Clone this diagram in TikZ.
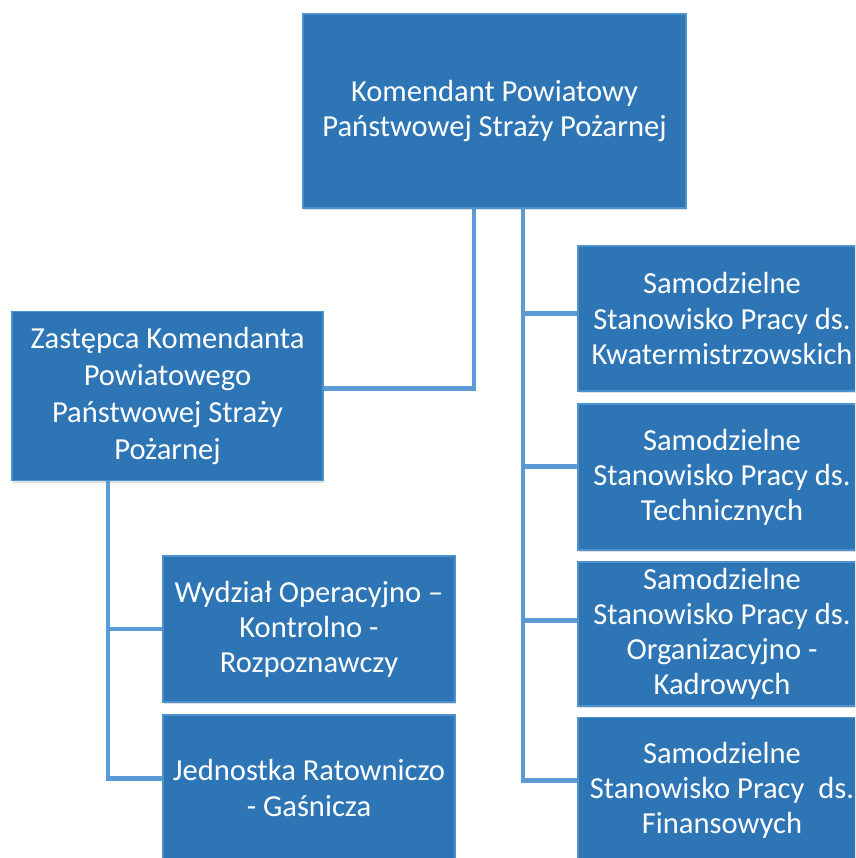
\documentclass[tikz,border=0pt]{standalone}
\usepackage{fontspec}
\setmainfont{Carlito}
\usetikzlibrary{shadows}
\definecolor{boxblue}{RGB}{46,117,182}
\definecolor{boxedge}{RGB}{78,145,205}
\definecolor{lineblue}{RGB}{91,155,213}
\tikzset{
  unit/.style={draw=boxedge, line width=0.8pt, fill=boxblue, text=white, align=center,
    font=\fontsize{17.4}{20}\selectfont, inner sep=1pt,
    drop shadow={opacity=0.25, shadow xshift=0.6pt, shadow yshift=-1.2pt}},
  link/.style={draw=lineblue, line width=2.8pt}
}
\begin{document}
\begin{tikzpicture}[x=0.02cm, y=-0.02cm]
			%%%%% START %%%%%
			
			\useasboundingbox (0,0) rectangle (855,858);
			\clip (0,0) rectangle (855,858);
			\fill[white] (0,0) rectangle (855,858);
			
			\node[unit, minimum width=7.66cm, minimum height=3.88cm] (top) at (494.5,111)
				{Komendant Powiatowy\\Państwowej Straży Pożarnej};
			
			\node[unit, font=\fontsize{17.4}{21.2}\selectfont, minimum width=6.22cm, minimum height=3.38cm] (zast) at (167.5,396)
				{Zastępca Komendanta\\Powiatowego\\Państwowej Straży\\Pożarnej};
			
			\node[unit, minimum width=5.84cm, minimum height=2.92cm] (wydz) at (309,629)
				{Wydział Operacyjno –\\Kontrolno -\\Rozpoznawczy};
			\node[unit, minimum width=5.84cm, minimum height=2.92cm] (jedn) at (309,788)
				{Jednostka Ratowniczo\\- Gaśnicza};
			
			\node[unit, minimum width=5.76cm, minimum height=2.90cm] (ssp1) at (722,318.5)
				{Samodzielne\\Stanowisko Pracy ds.\\Kwatermistrzowskich};
			\node[unit, minimum width=5.76cm, minimum height=2.92cm] (ssp2) at (722,477)
				{Samodzielne\\Stanowisko Pracy ds.\\Technicznych};
			\node[unit, minimum width=5.76cm, minimum height=2.88cm] (ssp3) at (722,634)
				{Samodzielne\\Stanowisko Pracy ds.\\Organizacyjno -\\Kadrowych};
			\node[unit, minimum width=5.76cm, minimum height=2.90cm] (ssp4) at (722,790)
				{Samodzielne\\Stanowisko Pracy\ \ ds.\\Finansowych};
			
			% feet of the connectors
			\coordinate (topfootL) at ([xshift=-0.41cm]top.south);
			\coordinate (topfootR) at ([xshift=0.57cm]top.south);
			\coordinate (zastfoot) at ([xshift=-1.19cm]zast.south);
			% where the branches meet the boxes
			\coordinate (inzast) at ([yshift=4.5pt]zast.east);
			\coordinate (in1) at ([yshift=3pt]ssp1.west);
			\coordinate (in2) at ([yshift=6pt]ssp2.west);
			\coordinate (in3) at ([yshift=7.5pt]ssp3.west);
			\coordinate (in4) at ([yshift=5.5pt]ssp4.west);
			\coordinate (injedn) at ([yshift=5.5pt]jedn.west);
			
			\draw[link] (topfootL) |- (inzast);
			\draw[link] (topfootR) |- (in4);
			\draw[link] (topfootR |- in1) -- (in1);
			\draw[link] (topfootR |- in2) -- (in2);
			\draw[link] (topfootR |- in3) -- (in3);
			\draw[link] (zastfoot) |- (injedn);
			\draw[link] (zastfoot |- wydz.west) -- (wydz.west);
			
			%%%%% END %%%%%
\end{tikzpicture}
\end{document}
